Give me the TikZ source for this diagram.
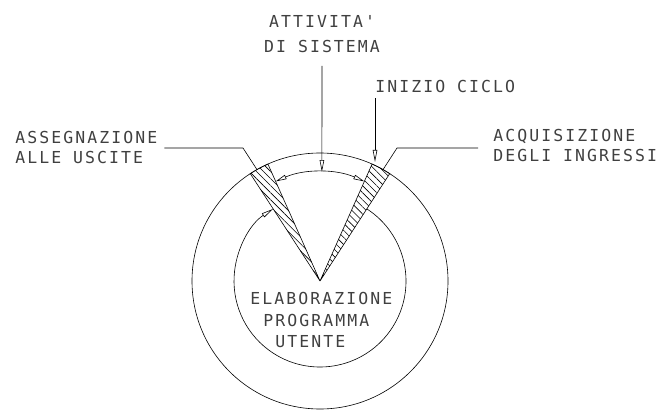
\documentclass[tikz,border=0pt]{standalone}
\usepackage{fontspec}
\usepackage{tikz}
\usetikzlibrary{arrows.meta}
\usetikzlibrary{patterns.meta}
\usetikzlibrary{calc}
\newfontfamily\cadfont[LetterSpace=12.5]{DejaVu Sans Mono}

\begin{document}
\begin{tikzpicture}[x=1pt,y=1pt,line width=0.6pt,
        every node/.style={inner sep=0pt,align=left,text=black!75,font=\cadfont\fontsize{16.5}{19.5}\selectfont},
        flow/.style={-{Triangle[open,length=12pt,width=4.5pt]}},
        twoway/.style={{Triangle[open,length=11pt,width=4.5pt]}-{Triangle[open,length=11pt,width=4.5pt]}},
        hatch/.style={draw,pattern={Lines[angle=-45,distance=5pt,line width=0.6pt]}},
  ]
    \useasboundingbox (0,0) rectangle (660,410);
    \coordinate (C) at (320,129);

    \draw[hatch] (C) -- ($(C)+(114:128)$) arc[start angle=114,end angle=123,radius=128] -- cycle;
    \draw[hatch] (C) -- ($(C)+(57:128)$) arc[start angle=57,end angle=66,radius=128] -- cycle;
    \draw (C) circle[radius=128];

    \node[anchor=north,align=center] (sysact) at (322,395) {ATTIVITA'\\[5.5pt]DI SISTEMA};
    \node[anchor=north west] (cycstart) at (375,330) {INIZIO CICLO};
    \node[anchor=north west] (outputs) at (15,279) {ASSEGNAZIONE\\ALLE USCITE};
    \node[anchor=north west] (inputs) at (493,281) {ACQUISIZIONE\\DEGLI INGRESSI};
    \node[anchor=north west] (userprog) at (250,118)
        {ELABORAZIONE\\[2pt]\hspace*{13pt}PROGRAMMA\\[2pt]\hspace*{25pt}UTENTE};

    \coordinate (sysin) at ($(C)+(89:109)$);
    \coordinate (cycin) at (375,248);
    \coordinate (lknee) at (243,262);
    \coordinate (rknee) at (397,262);
    \coordinate (lfoot) at ($(C)+(119.5:128)$);
    \coordinate (rfoot) at ($(C)+(60.5:128)$);
    \coordinate (topL) at ($(C)+(114:109)$);
    \coordinate (innR) at ($(C)+(57:86)$);

    \draw[flow] ([yshift=-13pt]sysact.south) -- (sysin);
    \draw[flow] ([yshift=-5pt]cycstart.south west) -- (cycin);
    \draw (outputs.east |- lknee) ++(7,0) -- (lknee) -- (lfoot);
    \draw (inputs.west |- rknee) ++(-15,0) -- (rknee) -- (rfoot);

    \draw[twoway] (topL) arc[start angle=114,end angle=66,radius=109];
    \draw[flow] (innR) arc[start angle=57,end angle=-237,radius=86];
\end{tikzpicture}
\end{document}
